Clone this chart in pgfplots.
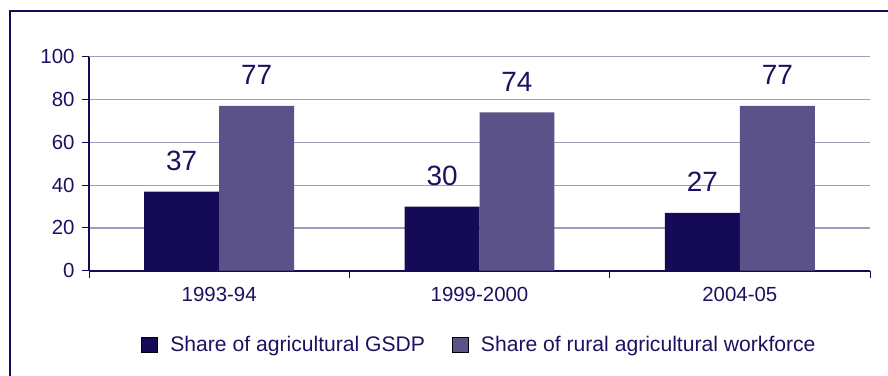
\documentclass[border=0pt]{standalone}
\usepackage{fontspec}
\setmainfont{Liberation Sans}
\usepackage{pgfplots}
\pgfplotsset{compat=1.18}
\definecolor{dkbar}{HTML}{140A55}
\definecolor{ltbar}{HTML}{5A5289}
\definecolor{txt}{HTML}{1A1260}
\definecolor{grd}{HTML}{A09CBE}
\begin{document}
\begin{tikzpicture}[x=1bp,y=1bp]
\path[use as bounding box] (0,0) rectangle (888,375);
\draw[color=dkbar, line width=1.2bp] (10,-5) -- (10,364) -- (893,364);
\begin{axis}[
  at={(89bp,104.3bp)}, anchor=south west,
  scale only axis, width=781bp, height=214bp,
  xmin=-0.5, xmax=2.5, ymin=0, ymax=100,
  axis x line*=bottom, axis y line*=left,
  axis line style={color=dkbar, line width=1.6bp},
  xtick={0,1,2}, xticklabels={1993-94,1999-2000,2004-05},
  major x tick style={draw=none},
  minor xtick={-0.5,0.5,1.5,2.5},
  minor x tick style={color=dkbar, line width=1bp},
  minor tick length=7bp,
  ytick={0,20,...,100},
  major tick length=7bp,
  y tick style={color=dkbar, line width=1bp},
  tick align=outside,
  ymajorgrids, major grid style={color=grd, line width=1.2bp},
  tick label style={font=\fontsize{20.5}{23}\selectfont, text=txt},
  /pgf/number format/assume math mode=true,
  xticklabel style={yshift=-6bp},
  yticklabel style={xshift=-4bp},
  bar width=0.288,
  nodes near coords,
  every node near coord/.append style={font=\fontsize{28}{31}\selectfont, text=txt, anchor=south, inner sep=0pt, yshift=21bp},
  legend columns=2,
  legend style={at={(0.5,-0.346)}, anchor=center, draw=none, fill=none,
    font=\fontsize{21.2}{24}\selectfont, text=txt,
    /tikz/every odd column/.append style={column sep=11bp},
    /tikz/every even column/.append style={column sep=25bp}},
  legend image code/.code={\draw[#1] (0bp,-7.8bp) rectangle (15.5bp,7.8bp);},
]
\addplot[ybar, bar shift=0, fill=dkbar, draw=none] coordinates {(-0.144,37) (0.856,30) (1.856,27)};
\addlegendentry{Share of agricultural GSDP}
\addplot[ybar, bar shift=0, fill=ltbar, draw=none] coordinates {(0.144,77) (1.144,74) (2.144,77)};
\addlegendentry{Share of rural agricultural workforce}
\end{axis}
\end{tikzpicture}
\end{document}
